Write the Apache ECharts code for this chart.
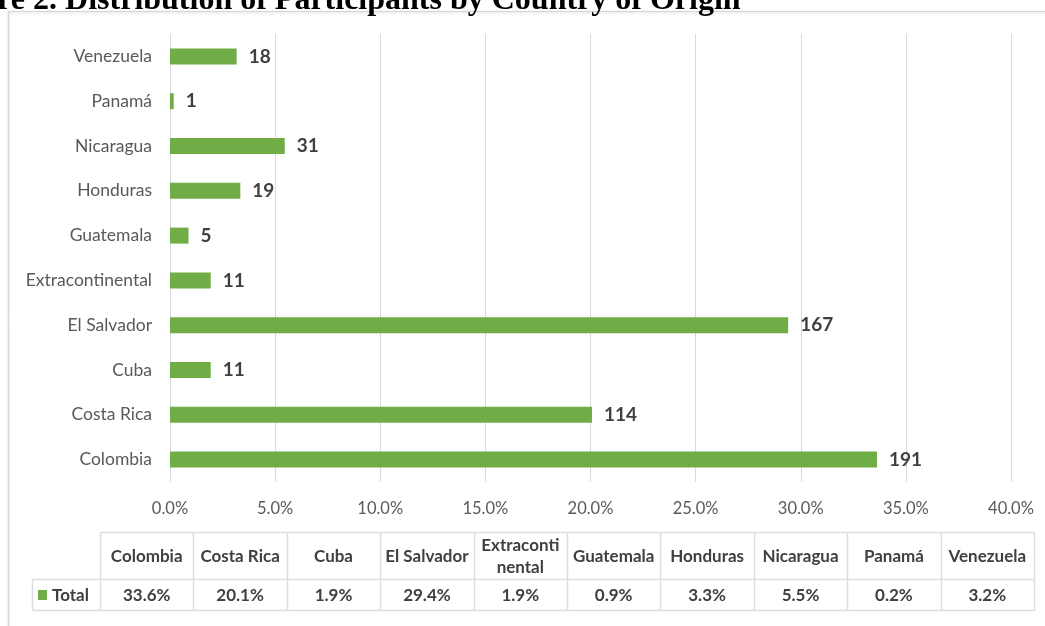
<!DOCTYPE html>
<html>
<head>
<meta charset="utf-8">
<script src="https://cdn.jsdelivr.net/npm/echarts@6/dist/echarts.min.js"></script>
<style>
  html, body { margin: 0; padding: 0; background: #ffffff; }
  #chart { width: 1045px; height: 626px; }
</style>
</head>
<body>
<div id="chart"></div>
<script>
// Participants by country of origin (counts), bottom to top on the category axis
const countries = ['Colombia', 'Costa Rica', 'Cuba', 'El Salvador', 'Extracontinental',
                   'Guatemala', 'Honduras', 'Nicaragua', 'Panamá', 'Venezuela'];
const counts = [191, 114, 11, 167, 11, 5, 19, 31, 1, 18];
// Share of the total shown in the data table row
const sharesText = ['33.6%', '20.1%', '1.9%', '29.4%', '1.9%', '0.9%', '3.3%', '5.5%', '0.2%', '3.2%'];
// Column headers of the data table (long names broken over two lines)
const tableHeaders = ['Colombia', 'Costa Rica', 'Cuba', 'El Salvador', 'Extraconti\nnental',
                      'Guatemala', 'Honduras', 'Nicaragua', 'Panamá', 'Venezuela'];
const seriesName = 'Total';
const titleText = 'Figure 2. Distribution of Participants by Country of Origin';

const total = counts.reduce((a, b) => a + b, 0);
const percents = counts.map(c => c / total * 100);

const GREEN = '#70ad47';
const FONT = 'Lato, "Open Sans", sans-serif';
const TEXT_DARK = '#404040';
const TEXT_GREY = '#595959';
const RULE = '#d9d9d9';

// Data table geometry under the plot
const tbl = { left: 100, right: 1034, top: 532, mid: 579, bottom: 610, keyLeft: 32 };
const colW = (tbl.right - tbl.left) / countries.length;

const graphics = [];
// Outer chart frame
graphics.push({
  type: 'rect', z: 0, silent: true,
  shape: { x: 8.5, y: 11.5, width: 1100, height: 700 },
  style: { fill: '#ffffff', stroke: '#d6d6d6', lineWidth: 1,
           shadowBlur: 3, shadowColor: 'rgba(0,0,0,0.18)', shadowOffsetY: 1 }
});
// Figure caption above the frame
graphics.push({
  type: 'text', z: 5, silent: true, x: -65, y: 17,
  style: { text: titleText, font: 'bold 32px "Liberation Serif", "Times New Roman", serif',
           fill: '#000000', verticalAlign: 'bottom', align: 'left' }
});
// Table lines
const lines = [];
lines.push([tbl.left, tbl.top, tbl.right, tbl.top]);
lines.push([tbl.keyLeft, tbl.mid, tbl.right, tbl.mid]);
lines.push([tbl.keyLeft, tbl.bottom, tbl.right, tbl.bottom]);
lines.push([tbl.keyLeft, tbl.mid, tbl.keyLeft, tbl.bottom]);
for (let i = 0; i <= countries.length; i++) {
  const x = tbl.left + i * colW;
  lines.push([x, tbl.top, x, tbl.bottom]);
}
lines.forEach(l => graphics.push({
  type: 'line', z: 5, silent: true,
  shape: { x1: Math.round(l[0]) + 0.5, y1: Math.round(l[1]) + 0.5, x2: Math.round(l[2]) + 0.5, y2: Math.round(l[3]) + 0.5 },
  style: { stroke: '#dedede', lineWidth: 1.5 }
}));
// Table header and value cells
tableHeaders.forEach((h, i) => {
  const cx = tbl.left + (i + 0.5) * colW;
  graphics.push({
    type: 'text', z: 6, silent: true, x: cx, y: (tbl.top + tbl.mid) / 2 + 1,
    style: { text: h, font: 'bold 17px ' + FONT, fill: TEXT_DARK, align: 'center',
             verticalAlign: 'middle', lineHeight: 22 }
  });
  graphics.push({
    type: 'text', z: 6, silent: true, x: cx, y: (tbl.mid + tbl.bottom) / 2 + 1,
    style: { text: sharesText[i], font: 'bold 17px ' + FONT, fill: TEXT_DARK, align: 'center',
             verticalAlign: 'middle' }
  });
});
// Legend key in the first table cell
graphics.push({
  type: 'rect', z: 6, silent: true,
  shape: { x: 38, y: 590, width: 9, height: 10 },
  style: { fill: GREEN }
});
graphics.push({
  type: 'text', z: 6, silent: true, x: 52, y: (tbl.mid + tbl.bottom) / 2 + 1,
  style: { text: seriesName, font: 'bold 17px ' + FONT, fill: TEXT_DARK, align: 'left',
           verticalAlign: 'middle' }
});

const chart = echarts.init(document.getElementById('chart'), null, { renderer: 'canvas' });
chart.setOption({
  animation: false,
  backgroundColor: '#ffffff',
  grid: { left: 170, right: 34, top: 34, height: 448, containLabel: false },
  xAxis: {
    type: 'value', min: 0, max: 40, interval: 5,
    axisLine: { show: false }, axisTick: { show: false },
    splitLine: { show: true, lineStyle: { color: RULE, width: 1 } },
    axisLabel: { margin: 18, color: TEXT_GREY, fontFamily: FONT, fontSize: 16.5,
                 formatter: v => v.toFixed(1) + '%' }
  },
  yAxis: {
    type: 'category', data: countries,
    axisLine: { show: false }, axisTick: { show: false },
    axisLabel: { margin: 18, color: TEXT_GREY, fontFamily: FONT, fontSize: 17.5 }
  },
  series: [{
    name: seriesName, type: 'bar', data: percents, barWidth: 16,
    itemStyle: { color: GREEN },
    label: {
      show: true, position: 'right', distance: 12,
      color: TEXT_DARK, fontFamily: FONT, fontWeight: 'bold', fontSize: 19,
      formatter: p => String(counts[p.dataIndex])
    }
  }],
  graphic: { elements: graphics }
});
</script>
</body>
</html>
